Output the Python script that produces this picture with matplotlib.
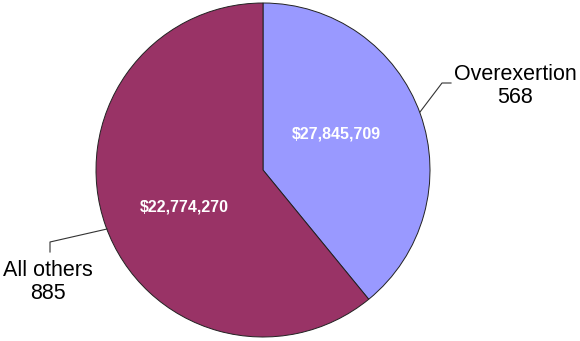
import matplotlib
matplotlib.use("Agg")
import matplotlib.pyplot as plt

categories = ["Overexertion", "All others"]
counts = [568, 885]
costs = ["$27,845,709", "$22,774,270"]
colors = ["#9999FF", "#993366"]

W, H = 580, 341
fig = plt.figure(figsize=(W / 100, H / 100), dpi=100)
ax = fig.add_axes([0, 0, 1, 1])

cx, cy, r = 263, H - 170, 167
ax.pie(counts, colors=colors, startangle=90, counterclock=False,
       center=(cx, cy), radius=r,
       wedgeprops=dict(edgecolor="#222222", linewidth=0.7))
ax.set_xlim(0, W)
ax.set_ylim(0, H)
ax.set_aspect("equal")
ax.axis("off")

font = "Liberation Sans"
# inside value labels
ax.text(336, H - 134, costs[0], color="white", fontsize=11.5, fontweight="bold",
        ha="center", va="center", family=font)
ax.text(184, H - 207, costs[1], color="white", fontsize=11.5, fontweight="bold",
        ha="center", va="center", family=font)

# outside category labels
ax.text(515, H - 86, f"{categories[0]}\n{counts[0]}", fontsize=15.5, ha="center",
        va="center", family=font, linespacing=1.15)
ax.text(48, H - 282, f"{categories[1]}\n{counts[1]}", fontsize=15.5, ha="center",
        va="center", family=font, linespacing=1.15)

# leader lines
ax.plot([420, 442, 451], [H - 112, H - 83, H - 83], color="#333333", lw=0.8)
ax.plot([107, 50, 50], [H - 229, H - 242, H - 252], color="#333333", lw=0.8)

fig.savefig("out.png", dpi=100, facecolor="white")
